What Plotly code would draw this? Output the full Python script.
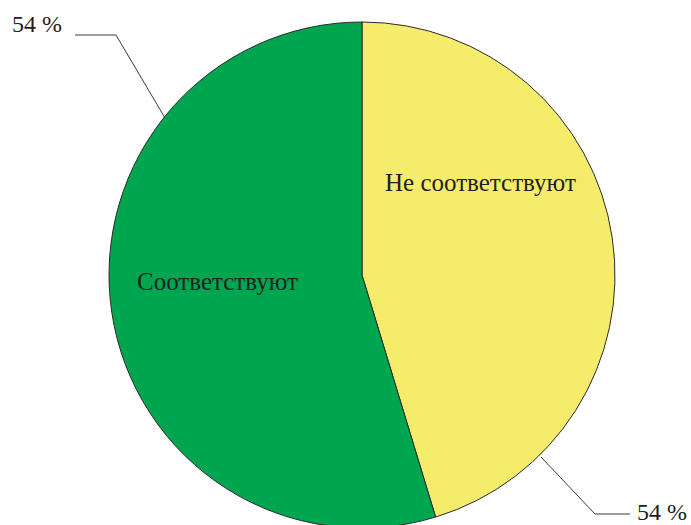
import plotly.graph_objects as go

# Data
categories = ["Не соответствуют", "Соответствуют"]
values = [45.3, 54.7]
value_labels = ["54 %", "54 %"]
colors = ["#F6EC6B", "#00A54F"]

W, H = 691, 540
CX, CY, R = 362, 275, 253

def px(x):
    return x / W

def py(y):
    return (H - y) / H

fig = go.Figure(go.Pie(
    labels=categories,
    values=values,
    sort=False,
    direction="clockwise",
    rotation=0,
    textinfo="none",
    hoverinfo="label+value",
    marker=dict(colors=colors, line=dict(color="#2b2b2b", width=1)),
    domain=dict(x=[px(CX - R), px(CX + R)], y=[py(CY + R), py(CY - R)]),
    showlegend=False,
))

family = "Liberation Serif, Times New Roman, serif"
cat_font = dict(family=family, size=25, color="#231F20")
num_font = dict(family=family, size=24, color="#231F20")

annots = [
    dict(text=categories[0], x=px(480), y=py(182), font=cat_font),
    dict(text=categories[1], x=px(217), y=py(282), font=cat_font),
    dict(text=value_labels[1], x=px(37), y=py(24), font=num_font),
    dict(text=value_labels[0], x=px(662), y=py(512), font=num_font),
]
fig.update_layout(annotations=[
    dict(xref="paper", yref="paper", showarrow=False,
         xanchor="center", yanchor="middle", **a) for a in annots
])

lines = [
    [(75, 35), (116, 35), (165, 118)],
    [(541, 457), (595, 514), (630, 514)],
]
shapes = []
for pts in lines:
    for (x0, y0), (x1, y1) in zip(pts[:-1], pts[1:]):
        shapes.append(dict(type="line", xref="paper", yref="paper",
                           x0=px(x0), y0=py(y0), x1=px(x1), y1=py(y1),
                           line=dict(color="#3a3a3a", width=1)))
fig.update_layout(shapes=shapes)

fig.update_layout(
    width=W, height=H,
    margin=dict(l=0, r=0, t=0, b=0),
    paper_bgcolor="white", plot_bgcolor="white",
)
fig.write_html("out.html", config={"displayModeBar": False},
               post_script="document.body.style.margin='0';document.body.style.overflow='hidden';")
